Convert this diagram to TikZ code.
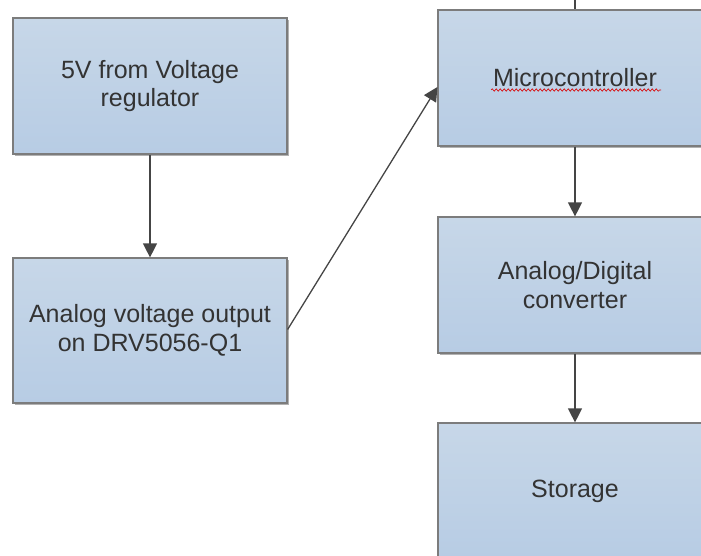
\documentclass[tikz,border=0pt]{standalone}
\usepackage{fontspec}
\setmainfont{Liberation Sans}
\usetikzlibrary{shadows,arrows.meta,decorations.pathmorphing,calc}
\definecolor{boxtop}{HTML}{C7D7E8}
\definecolor{boxbot}{HTML}{B7CCE4}
\definecolor{boxline}{HTML}{7C7C7C}
\definecolor{linkcol}{HTML}{454545}
\definecolor{txt}{HTML}{333333}
\begin{document}
\begin{tikzpicture}[x=1pt,y=-1pt,
  block/.style={draw=boxline, line width=1.2pt, top color=boxtop, bottom color=boxbot,
    minimum width=274pt, minimum height=136pt, inner sep=0pt,
    font=\fontsize{25}{28.5}\selectfont, text=txt, align=center,
    drop shadow={shadow xshift=2pt, shadow yshift=-2pt, opacity=0.3, fill=black}},
  link/.style={draw=linkcol, line width=1.3pt, -{Triangle[length=14pt,width=14pt]}},
  stub/.style={draw=linkcol, line width=1.3pt}]
\useasboundingbox (0,0) rectangle (701,556);

% left column
\node[block] (src) at (150,86) {\raisebox{-2pt}{\parbox{274pt}{\centering 5V from Voltage\\regulator}}};
\node[block, minimum height=145pt] (hall) at (150,330.5) {Analog voltage output\\on DRV5056-Q1};

% right column
\node[block] (mcu) at (575,78) {Microcontroller};
\node[block] (adc) at (575,285) {Analog/Digital\\converter};
\node[block] (store) at (575,491) {\raisebox{-3pt}{Storage}};

% spell-check underline under the controller label
\draw[red!85!black, line width=0.6pt, decorate,
  decoration={snake, amplitude=1.2pt, segment length=4pt}]
  ($(mcu.center)+(-84,12)$) -- ($(mcu.center)+(86,12)$);

% connectors
\coordinate (above) at (575,0);
\draw[stub] (above) -- (mcu.north);
\draw[link] (src.south) -- (hall.north);
\draw[link] ($(hall.east)+(0,-1)$) -- ($(mcu.west)+(0,9)$);
\draw[link] (mcu.south) -- (adc.north);
\draw[link] (adc.south) -- (store.north);
\end{tikzpicture}
\end{document}
